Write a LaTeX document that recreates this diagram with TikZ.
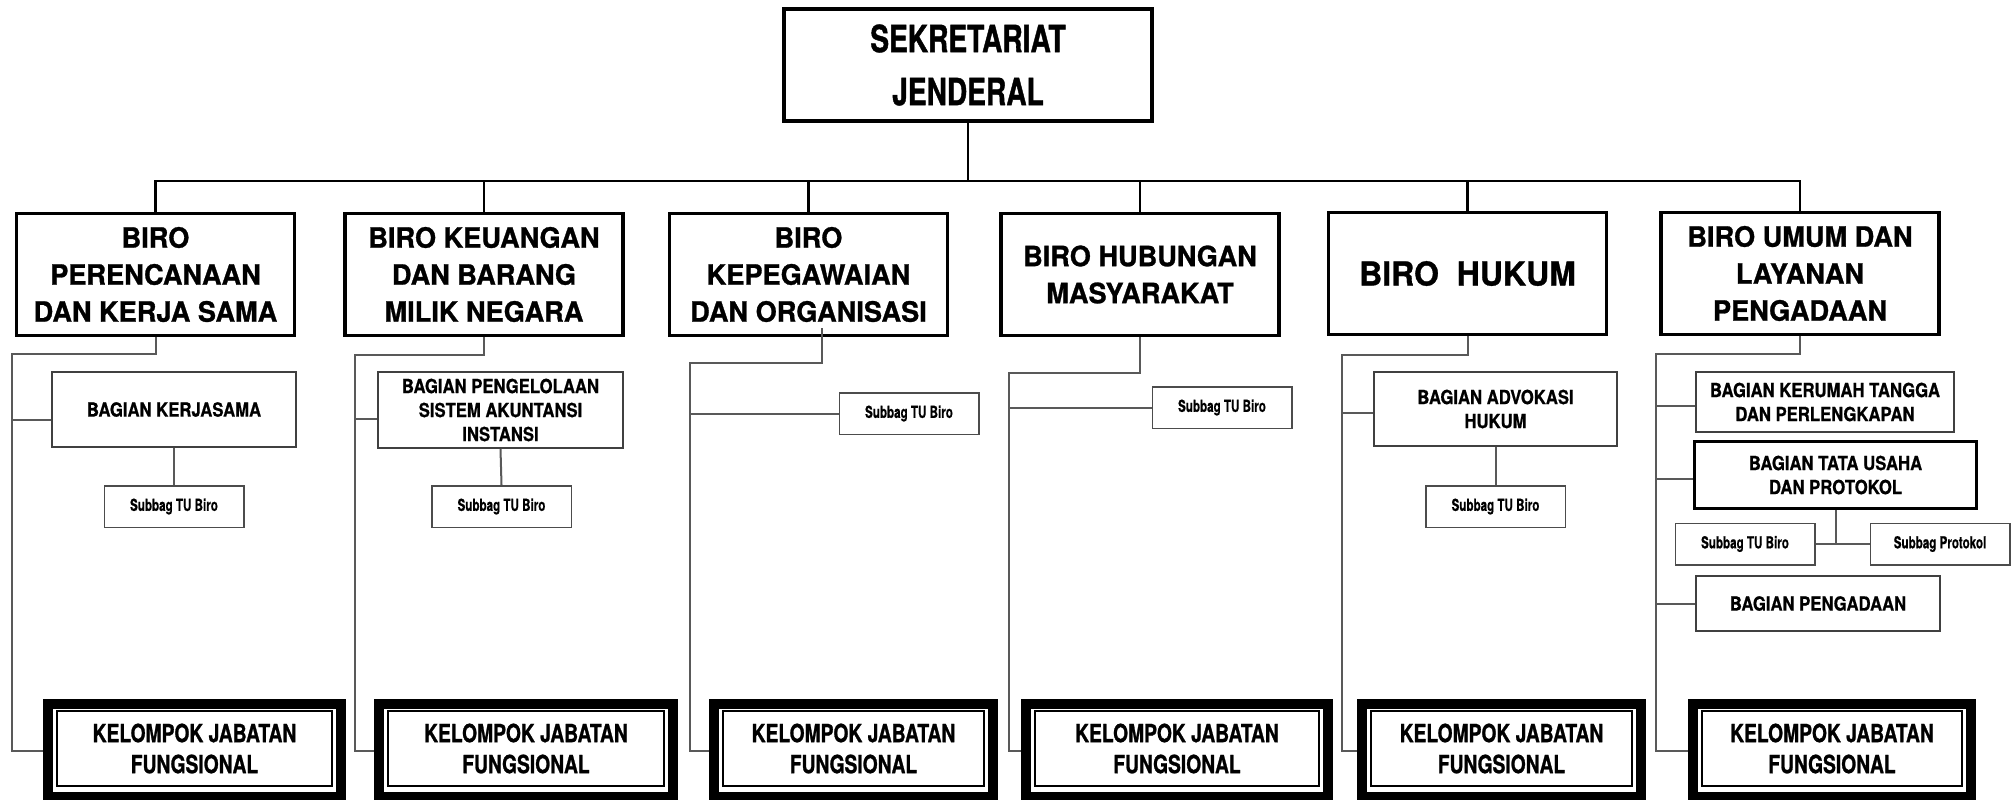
\documentclass[tikz,border=0pt]{standalone}
\usepackage{fontspec}
\newfontfamily\titlefont{TeX Gyre Heros}[FakeStretch=0.75, FakeBold=1]
\newfontfamily\birofont{TeX Gyre Heros}[FakeStretch=0.97, FakeBold=1]
\newfontfamily\bagfont{TeX Gyre Heros}[FakeStretch=0.86, FakeBold=0.8]
\newfontfamily\kjfont{TeX Gyre Heros}[FakeStretch=0.77, FakeBold=1]
\newfontfamily\subfont{TeX Gyre Heros}[FakeStretch=0.70, FakeBold=0.6]
\newcommand{\fs}[2]{\fontsize{#1}{#2}\selectfont}

\begin{document}
\begin{tikzpicture}
  [x=0.5pt, y=-0.5pt,
   every node/.style={align=center, inner sep=0pt},
   top/.style={draw, line width=1.75pt, minimum width=184pt, minimum height=56pt, font=\titlefont\bfseries\fs{18.75}{26.5}},
   biro/.style={draw, line width=1.75pt, minimum width=139pt, minimum height=61pt, font=\birofont\bfseries\fs{14}{18.5}},
   bagian/.style={draw=black!75, line width=1pt, font=\bagfont\bfseries\fs{9.7}{12}},
   subbag/.style={draw=black!70, line width=0.75pt, minimum width=69.75pt, minimum height=20.75pt, font=\subfont\bfseries\fs{8.3}{10}},
   jabatan/.style={draw, line width=5pt, minimum height=46.5pt},
   jabisi/.style={draw, line width=1pt, minimum height=37.5pt, font=\kjfont\bfseries\fs{12.5}{15.5}},
   bus/.style={line width=1.25pt},
   sub/.style={draw=black!65, line width=1pt}]
  \useasboundingbox (0,0) rectangle (2012,799);

  \node[top] (top) at (968,65) {SEKRETARIAT\\JENDERAL};

  \node[biro] (b1) at (155.5,274.5) {BIRO\\PERENCANAAN\\DAN KERJA SAMA};
  \node[biro] (b2) at (484,274.5) {BIRO KEUANGAN\\DAN BARANG\\MILIK NEGARA};
  \node[biro] (b3) at (808.5,274.5) {BIRO\\KEPEGAWAIAN\\DAN ORGANISASI};
  \node[biro] (b4) at (1140,274.5) {BIRO HUBUNGAN\\MASYARAKAT};
  \node[biro, font=\birofont\bfseries\fs{16.5}{20}] (b5) at (1467.5,273.5) {BIRO~~HUKUM};
  \node[biro] (b6) at (1800,273.5) {BIRO UMUM DAN\\LAYANAN\\PENGADAAN};

  \coordinate (bus) at (968,181);
  \draw[bus] (top.south) -- (bus);
  \draw[bus] (b1.north) |- (bus) -| (b6.north);
  \draw[bus] (b2.north) -- (b2.north |- bus);
  \draw[bus] (b3.north) -- (b3.north |- bus);
  \draw[bus] (b4.north) -- (b4.north |- bus);
  \draw[bus] (b5.north) -- (b5.north |- bus);

  \node[bagian, minimum width=122pt, minimum height=37.5pt] (kerja) at (174,409.5) {BAGIAN KERJASAMA};
  \node[bagian, minimum width=122.5pt, minimum height=38pt] (sak) at (500.5,410) {BAGIAN PENGELOLAAN\\SISTEM AKUNTANSI\\INSTANSI};
  \node[bagian, minimum width=121.5pt, minimum height=37pt] (advo) at (1495.5,409) {BAGIAN ADVOKASI\\HUKUM};
  \node[bagian, minimum width=129pt, minimum height=30pt] (rt) at (1825,402) {BAGIAN KERUMAH TANGGA\\DAN PERLENGKAPAN};
  \node[bagian, draw=black, line width=1.5pt, minimum width=141pt, minimum height=33.5pt] (tu) at (1835.5,475) {BAGIAN TATA USAHA\\DAN PROTOKOL};
  \node[bagian, minimum width=122pt, minimum height=27.5pt] (pgd) at (1818,603.5) {BAGIAN PENGADAAN};

  \node[subbag] (s1) at (174,506.5) {Subbag TU Biro};
  \node[subbag] (s2) at (501.5,506.5) {Subbag TU Biro};
  \node[subbag] (s3) at (909,413.5) {Subbag TU Biro};
  \node[subbag] (s4) at (1222,407.5) {Subbag TU Biro};
  \node[subbag] (s5) at (1495.5,506.5) {Subbag TU Biro};
  \node[subbag] (s6) at (1745,544) {Subbag TU Biro};
  \node[subbag] (prot) at (1940,544) {Subbag Protokol};

  \node[jabatan, minimum width=146.5pt] (kj1) at (194.5,750.5) {};
  \node[jabisi, minimum width=137.5pt] at ([yshift=1pt]kj1) {KELOMPOK JABATAN\\FUNGSIONAL};
  \node[jabatan, minimum width=147pt] (kj2) at (526,750.5) {};
  \node[jabisi, minimum width=138pt] at ([yshift=1pt]kj2) {KELOMPOK JABATAN\\FUNGSIONAL};
  \node[jabatan, minimum width=139.5pt] (kj3) at (853.5,750.5) {};
  \node[jabisi, minimum width=130.5pt] at ([yshift=1pt]kj3) {KELOMPOK JABATAN\\FUNGSIONAL};
  \node[jabatan, minimum width=151pt] (kj4) at (1177,750.5) {};
  \node[jabisi, minimum width=142pt] at ([yshift=1pt]kj4) {KELOMPOK JABATAN\\FUNGSIONAL};
  \node[jabatan, minimum width=139.5pt] (kj5) at (1501.5,750.5) {};
  \node[jabisi, minimum width=130.5pt] at ([yshift=1pt]kj5) {KELOMPOK JABATAN\\FUNGSIONAL};
  \node[jabatan, minimum width=139pt] (kj6) at (1832,750.5) {};
  \node[jabisi, minimum width=130pt] at ([yshift=1pt]kj6) {KELOMPOK JABATAN\\FUNGSIONAL};

  \coordinate (r1) at (12,354);
  \coordinate (r2) at (355,355);
  \coordinate (r3) at (690,363);
  \coordinate (r4) at (1009,373);
  \coordinate (r5) at (1342,355);
  \coordinate (r6) at (1656,354);

  \draw[sub] (b1.south) |- (r1) |- (kj1.west);
  \draw[sub] (r1 |- kerja.west) ++(0,10) -- ([yshift=-5pt]kerja.west);
  \draw[sub] (kerja.south) -- (s1.north);

  \draw[sub] (b2.south) |- (r2) |- (kj2.west);
  \draw[sub] (r2 |- sak.west) ++(0,9) -- ([yshift=-4.5pt]sak.west);
  \draw[sub] (sak.south) -- (s2.north);

  \draw[sub] ([xshift=6.5pt,yshift=4.5pt]b3.south) |- (r3) |- (kj3.west);
  \draw[sub] (r3 |- s3.west) -- (s3.west);

  \draw[sub] (b4.south) |- (r4) |- (kj4.west);
  \draw[sub] (r4 |- s4.west) -- (s4.west);

  \draw[sub] (b5.south) |- (r5) |- (kj5.west);
  \draw[sub] (r5 |- advo.west) ++(0,4) -- ([yshift=-2pt]advo.west);
  \draw[sub] (advo.south) -- (s5.north);

  \draw[sub] (b6.south) |- (r6) |- (kj6.west);
  \draw[sub] (r6 |- rt.west) ++(0,4) -- ([yshift=-2pt]rt.west);
  \draw[sub] (r6 |- tu.west) ++(0,4) -- ([yshift=-2pt]tu.west);
  \draw[sub] (r6 |- pgd.west) -- (pgd.west);
  \draw[sub] (tu.south) -- (tu.south |- s6.east);
  \draw[sub] (s6.east) -- (prot.west);
\end{tikzpicture}
\end{document}
